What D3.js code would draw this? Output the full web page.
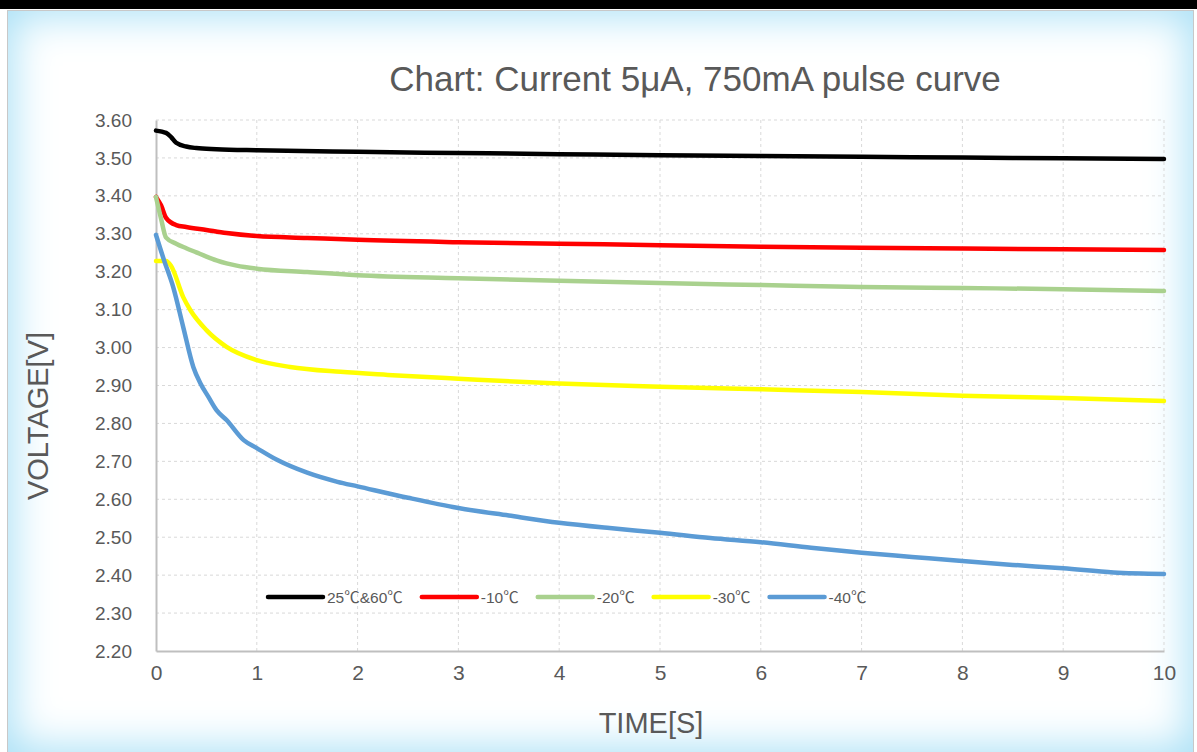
<!DOCTYPE html>
<html>
<head>
<meta charset="utf-8">
<script src="https://cdn.jsdelivr.net/npm/d3@7"></script>
<style>
  body { margin: 0; background: #fff; width: 1197px; height: 752px; overflow: hidden; position: relative; }
  #topbar { position: absolute; left: 0; top: 0; width: 1197px; height: 9px; background: #000; }
  #frame { position: absolute; left: 7px; top: 10px; width: 1185px; height: 741px; background: #fff;
           border: 1px solid #c8c8c8; box-shadow: inset 0 0 42px 5px #a9e0f6; }
  svg { position: absolute; left: 0; top: 0; }
  text { font-family: "Liberation Sans", Arial, "Noto Sans CJK SC", sans-serif; fill: #595959; }
</style>
</head>
<body>
<div id="topbar"></div>
<div id="frame"></div>
<div id="chart"></div>
<script>
// data
var seriesNames = ["25℃&60℃", "-10℃", "-20℃", "-30℃", "-40℃"];
var colors = ["#000000", "#ff0000", "#a9d18e", "#ffff00", "#5b9bd5"];

var t25 = [0, 0.1, 0.15, 0.2, 0.3, 0.4, 0.6, 1, 2, 3, 4, 5, 6, 7, 8, 9, 10];
var v25 = [3.572, 3.566, 3.555, 3.540, 3.530, 3.526, 3.523, 3.520, 3.516, 3.513, 3.510, 3.507, 3.505, 3.503, 3.501, 3.499, 3.497];

var tm10 = [0, 0.05, 0.1, 0.2, 0.3, 0.5, 0.7, 1, 1.5, 2, 3, 4, 5, 6, 7, 8, 9, 10];
var vm10 = [3.397, 3.375, 3.342, 3.323, 3.318, 3.310, 3.302, 3.294, 3.289, 3.284, 3.278, 3.274, 3.270, 3.266, 3.263, 3.261, 3.259, 3.257];

var tm20 = [0, 0.05, 0.1, 0.2, 0.3, 0.4, 0.5, 0.6, 0.7, 0.8, 1, 1.5, 2, 3, 4, 5, 6, 7, 8, 9, 10];
var vm20 = [3.397, 3.34, 3.290, 3.274, 3.262, 3.251, 3.240, 3.230, 3.222, 3.216, 3.208, 3.199, 3.191, 3.183, 3.176, 3.170, 3.165, 3.160, 3.157, 3.154, 3.149];

var tm30 = [0, 0.1, 0.15, 0.27, 0.34, 0.5, 0.7, 1, 1.33, 1.83, 2.3, 3, 4, 5, 6, 7, 8, 9, 10];
var vm30 = [3.228, 3.228, 3.215, 3.133, 3.099, 3.046, 3.002, 2.967, 2.949, 2.936, 2.928, 2.918, 2.905, 2.897, 2.890, 2.883, 2.873, 2.867, 2.859];

var tm40 = [0, 0.08, 0.17, 0.27, 0.37, 0.44, 0.52, 0.6, 0.7, 0.87, 1, 1.2, 1.5, 1.8, 2, 2.5, 3, 3.5, 4, 4.5, 5, 5.5, 6, 6.5, 7, 7.5, 8, 8.5, 9, 9.5, 10];
var vm40 = [3.297, 3.23, 3.16, 3.054, 2.949, 2.906, 2.87, 2.835, 2.809, 2.756, 2.735, 2.704, 2.670, 2.646, 2.634, 2.604, 2.577, 2.557, 2.538, 2.524, 2.512, 2.498, 2.487, 2.472, 2.459, 2.448, 2.437, 2.427, 2.418, 2.407, 2.403];

var xTicks = [0, 1, 2, 3, 4, 5, 6, 7, 8, 9, 10];
var yTicks = [2.2, 2.3, 2.4, 2.5, 2.6, 2.7, 2.8, 2.9, 3.0, 3.1, 3.2, 3.3, 3.4, 3.5, 3.6];

var times = [t25, tm10, tm20, tm30, tm40];
var volts = [v25, vm10, vm20, vm30, vm40];

var w = 1197, h = 752;
var svg = d3.select("#chart").append("svg").attr("width", w).attr("height", h);

var xScale = d3.scaleLinear().domain([0, 10]).range([156, 1164]);
var yScale = d3.scaleLinear().domain([2.2, 3.6]).range([651, 120]);

// grid lines (dashed)
svg.append("g").selectAll("line").data(xTicks.slice(1)).enter().append("line")
    .attr("x1", function(d) { return xScale(d); }).attr("x2", function(d) { return xScale(d); })
    .attr("y1", yScale(3.6)).attr("y2", yScale(2.2))
    .attr("stroke", "#d9d9d9").attr("stroke-dasharray", "3,3");
svg.append("g").selectAll("line").data(yTicks.slice(1)).enter().append("line")
    .attr("x1", xScale(0)).attr("x2", xScale(10))
    .attr("y1", function(d) { return yScale(d); }).attr("y2", function(d) { return yScale(d); })
    .attr("stroke", "#d9d9d9").attr("stroke-dasharray", "3,3");

// axes
var xAxis = d3.axisBottom(xScale).tickValues(xTicks).tickFormat(d3.format("d")).tickSize(0).tickPadding(14);
var yAxis = d3.axisLeft(yScale).tickValues(yTicks).tickFormat(d3.format(".2f")).tickSize(0).tickPadding(24);

var gx = svg.append("g").attr("transform", "translate(0," + yScale(2.2) + ")").call(xAxis);
var gy = svg.append("g").attr("transform", "translate(" + xScale(0) + ",0)").call(yAxis);
[gx, gy].forEach(function(g) {
    g.select(".domain").attr("stroke", "#bfbfbf").attr("stroke-width", 2);
    g.selectAll("text").style("fill", "#595959")
        .style("font-family", "Liberation Sans, Arial, sans-serif");
});
gy.selectAll("text").style("font-size", "19px");
gx.selectAll("text").style("font-size", "21px");

// curves
var line = d3.line()
    .x(function(d) { return xScale(d[0]); })
    .y(function(d) { return yScale(d[1]); })
    .curve(d3.curveMonotoneX);

times.forEach(function(ts, i) {
    var pts = ts.map(function(t, j) { return [t, volts[i][j]]; });
    svg.append("path").datum(pts)
        .attr("d", line)
        .attr("fill", "none")
        .attr("stroke", colors[i])
        .attr("stroke-width", 4.5)
        .attr("stroke-linejoin", "round")
        .attr("stroke-linecap", "round");
});

// title
svg.append("text").attr("x", 695).attr("y", 91).attr("text-anchor", "middle")
    .style("font-size", "35px").text("Chart: Current 5μA, 750mA pulse curve");

// axis titles
svg.append("text").attr("transform", "translate(48,416) rotate(-90)").attr("text-anchor", "middle")
    .style("font-size", "29px").text("VOLTAGE[V]");
svg.append("text").attr("x", 651).attr("y", 733).attr("text-anchor", "middle")
    .style("font-size", "29px").text("TIME[S]");

// legend
var lx = 268, ly = 597;
seriesNames.forEach(function(name, i) {
    svg.append("line").attr("x1", lx).attr("x2", lx + 55).attr("y1", ly).attr("y2", ly)
        .attr("stroke", colors[i]).attr("stroke-width", 4.5).attr("stroke-linecap", "round");
    var t = svg.append("text").attr("x", lx + 59).attr("y", ly + 6)
        .style("font-size", "15.5px").text(name);
    lx = lx + 59 + t.node().getComputedTextLength() + 19;
});
</script>
</body>
</html>
